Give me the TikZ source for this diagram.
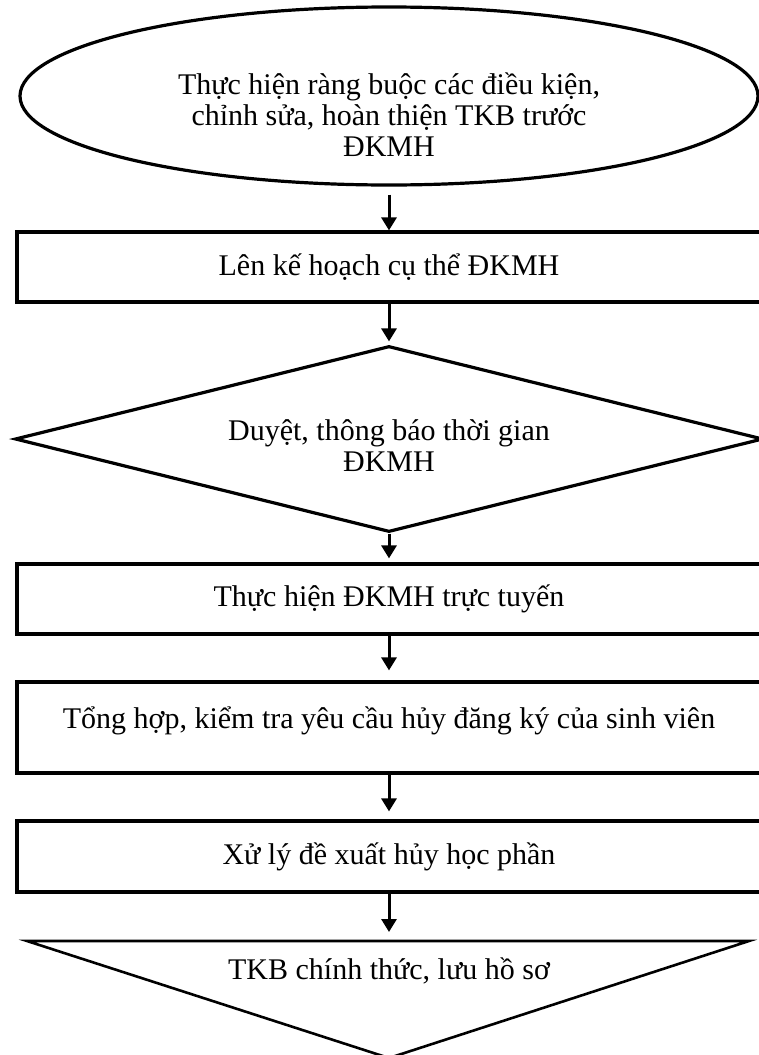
\documentclass[tikz,border=0pt]{standalone}
\usepackage{fontspec}
\setmainfont{Liberation Serif}
\usetikzlibrary{shapes,arrows.meta,positioning}

\begin{document}
\begin{tikzpicture}[x=1pt,y=-1pt,
	every node/.style={font=\fontsize{30}{31}\selectfont},
	box/.style={draw,rectangle,line width=3.2pt,minimum width=744pt,inner sep=0pt,align=center},
	flowarrow/.style={line width=3pt,-{Triangle[width=15pt,length=13pt]}}]
	\useasboundingbox (0,0) rectangle (758,1055);
	% shapes
	\node[draw,ellipse,line width=3.2pt,minimum width=738pt,minimum height=178pt] (start) at (389,96) {};
	\node[align=center] (starttext) at (389,115) {Thực hiện ràng buộc các điều kiện,\\chỉnh sửa, hoàn thiện TKB trước\\ĐKMH};
	\node[box,minimum height=70pt] (plan) at (389,267) {Lên kế hoạch cụ thể ĐKMH};
	\node[draw,diamond,line width=3.2pt,minimum width=748pt,minimum height=186pt,inner sep=0pt] (approve) at (389,439) {};
	\node[align=center] (approvetext) at (389,446) {Duyệt, thông báo thời gian\\ĐKMH};
	\node[box,minimum height=70pt] (online) at (389,599) {Thực hiện ĐKMH trực tuyến};
	\node[box,minimum height=91pt] (cancel) at (389,727.5) {};
	\node[anchor=base] (canceltext) at (389,728) {Tổng hợp, kiểm tra yêu cầu hủy đăng ký của sinh viên};
	\node[box,minimum height=71pt] (handle) at (389,856.5) {Xử lý đề xuất hủy học phần};
	\coordinate (triL) at (27,941);
	\coordinate (triR) at (749,941);
	\coordinate (triB) at (389,1058);
	\coordinate (triT) at (389,941);
	\draw[line width=2.6pt] (triL) -- (triR) -- (triB) -- cycle;
	\node[anchor=base] (finaltext) at (389,979) {TKB chính thức, lưu hồ sơ};
	% arrows
	\draw[flowarrow,shorten <=8pt] (start) -- (plan);
	\draw[flowarrow,shorten >=3pt] (plan) -- (approve);
	\draw[flowarrow,shorten >=4pt] (approve) -- (online);
	\draw[flowarrow,shorten >=10pt] (online) -- (cancel);
	\draw[flowarrow,shorten >=8pt] (cancel) -- (handle);
	\draw[flowarrow,shorten >=9pt] (handle.south) -- (triT);
\end{tikzpicture}
\end{document}
